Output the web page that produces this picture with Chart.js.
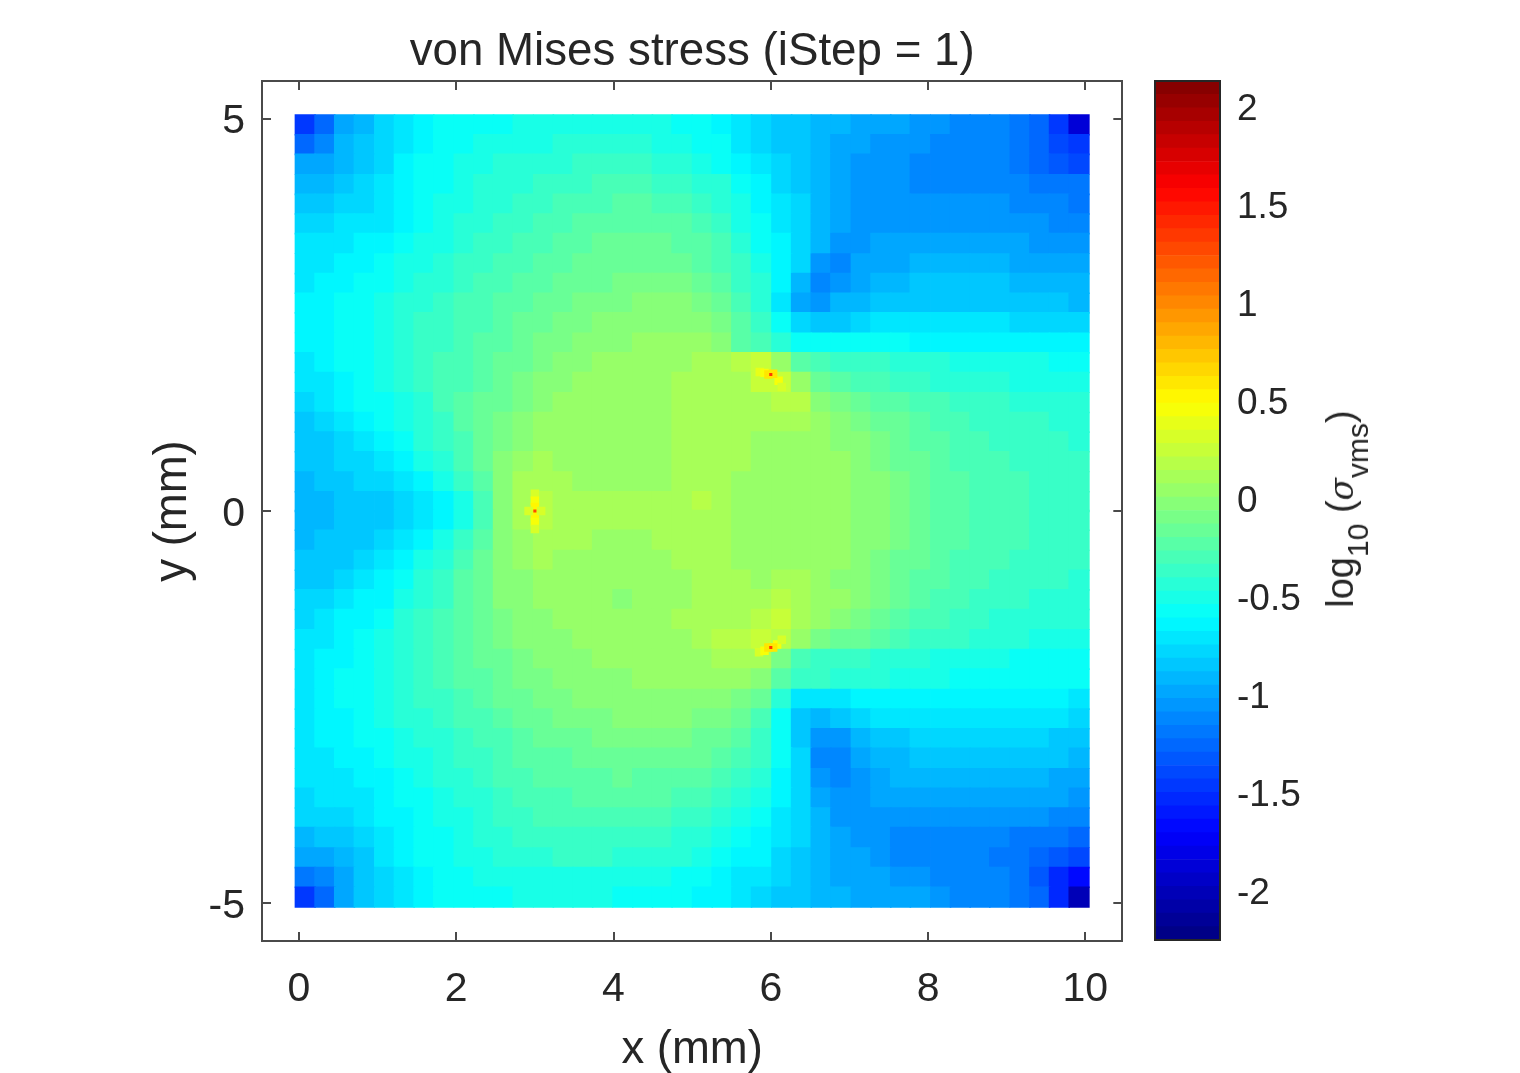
<!DOCTYPE html>
<html><head><meta charset="utf-8">
<script src="https://cdn.jsdelivr.net/npm/chart.js@4/dist/chart.umd.min.js"></script>
<style>
html,body{margin:0;padding:0;background:#fff;width:1520px;height:1073px;overflow:hidden}
canvas{position:absolute;top:0}
#cbLabel{position:absolute;left:1340px;top:509px;transform:translate(-50%,-50%) rotate(-90deg);white-space:nowrap;font:38px "Liberation Sans",Arial,sans-serif;color:#262626;line-height:1}
#cbLabel sub{font-size:30px;vertical-align:-15px;line-height:0}
#cbLabel i{font-family:"DejaVu Serif","Liberation Serif",serif;font-size:33px}
</style></head><body>
<canvas id="main" style="left:0;width:1142px;height:1073px"></canvas>
<canvas id="bar" style="left:1140px;width:380px;height:1073px"></canvas>
<div id="cbLabel">log<sub>10</sub> (<i>σ</i><sub>vms</sub>)</div>
<script>
// axis labels and ticks
const titleText="von Mises stress (iStep = 1)";
const xLabel="x (mm)", yLabel="y (mm)";
const xTicks=[0,2,4,6,8,10], yTicks=[-5,0,5], barTicks=[-2,-1.5,-1,-0.5,0,0.5,1,1.5,2];
const xRange=[-0.47,10.47], yRange=[-5.48,5.48], barRange=[-2.26,2.12];
const levelCount=64;
// cell centres in mm
const gridX=[.08,.33,.58,.83,1.09,1.34,1.59,1.84,2.10,2.35,2.60,2.85,3.11,3.36,3.61,3.86,4.12,4.37,4.62,4.87,5.13,5.38,5.63,5.88,6.14,6.39,6.64,6.89,7.15,7.40,7.65,7.90,8.16,8.41,8.66,8.91,9.17,9.42,9.67,9.92];
const gridY=[4.92,4.67,4.42,4.16,3.91,3.66,3.41,3.15,2.90,2.65,2.40,2.14,1.89,1.64,1.38,1.13,.88,.63,.37,.12,-.12,-.37,-.63,-.88,-1.13,-1.38,-1.64,-1.89,-2.14,-2.40,-2.65,-2.90,-3.15,-3.41,-3.66,-3.91,-4.16,-4.42,-4.67,-4.92];
// log10(stress) x 100, one list per row from top to bottom
const r00=[-150,-125,-100,-90,-80,-70,-63,-60,-58,-56,-55,-54,-53,-53,-52,-52,-52,-53,-54,-56,-59,-64,-72,-80,-84,-88,-92,-95,-98,-100,-101,-103,-106,-110,-112,-114,-120,-128,-145,-190];
const r01=[-125,-115,-95,-87,-78,-69,-62,-59,-56,-54,-52,-50,-49,-48,-47,-47,-47,-48,-50,-52,-55,-61,-70,-78,-83,-87,-92,-97,-101,-104,-106,-108,-110,-111,-113,-114,-118,-127,-138,-150];
const r02=[-100,-102,-93,-85,-77,-68,-60,-57,-54,-51,-48,-46,-44,-42,-40,-39,-39,-40,-42,-45,-49,-55,-64,-73,-80,-87,-93,-99,-104,-107,-108,-110,-110,-110,-111,-113,-117,-124,-132,-138];
const r03=[-92,-95,-88,-82,-75,-66,-59,-55,-51,-48,-45,-42,-39,-37,-35,-33,-32,-33,-35,-38,-42,-48,-58,-68,-77,-84,-91,-98,-104,-106,-108,-110,-110,-110,-110,-111,-113,-117,-120,-122];
const r04=[-83,-84,-81,-78,-73,-65,-58,-53,-49,-46,-42,-38,-35,-32,-30,-28,-27,-27,-29,-32,-36,-43,-54,-64,-74,-82,-90,-98,-104,-107,-108,-109,-109,-108,-108,-109,-111,-114,-115,-117];
const r05=[-77,-76,-75,-73,-69,-62,-56,-51,-47,-43,-39,-35,-32,-29,-26,-24,-22,-22,-24,-27,-31,-38,-50,-61,-72,-80,-90,-99,-105,-105,-104,-103,-103,-103,-105,-106,-108,-109,-110,-112];
const r06=[-74,-73,-71,-67,-63,-59,-53,-49,-44,-40,-36,-33,-29,-26,-23,-20,-19,-18,-20,-22,-26,-33,-46,-58,-66,-78,-92,-108,-108,-101,-100,-98,-97,-97,-98,-100,-102,-103,-105,-107];
const r07=[-73,-71,-67,-62,-58,-54,-49,-45,-41,-37,-33,-29,-26,-23,-20,-17,-16,-14,-15,-17,-21,-28,-41,-53,-62,-80,-105,-112,-102,-97,-96,-94,-93,-93,-94,-94,-96,-97,-98,-100];
const r08=[-70,-67,-63,-59,-55,-50,-46,-42,-37,-33,-29,-25,-22,-19,-16,-14,-12,-10,-10,-12,-15,-23,-36,-48,-65,-92,-110,-105,-96,-93,-91,-89,-88,-88,-88,-88,-90,-92,-94,-95];
const r09=[-68,-64,-60,-56,-53,-48,-43,-39,-34,-30,-26,-22,-18,-15,-12,-10,-8,-6,-6,-7,-10,-17,-31,-43,-70,-100,-105,-95,-90,-86,-85,-84,-84,-83,-83,-83,-85,-87,-88,-90];
const r10=[-67,-63,-59,-56,-52,-46,-41,-36,-32,-28,-24,-20,-15,-12,-9,-6,-4,-2,-1,-2,-5,-12,-26,-38,-58,-82,-85,-83,-78,-75,-74,-74,-74,-74,-75,-75,-76,-77,-78,-78];
const r11=[-68,-63,-59,-55,-51,-45,-40,-35,-30,-25,-21,-17,-12,-9,-6,-3,-1,1,2,2,0,-7,-21,-30,-45,-60,-60,-61,-60,-60,-61,-62,-63,-65,-66,-67,-67,-67,-66,-66];
const r12=[-71,-66,-60,-55,-52,-45,-39,-34,-29,-23,-19,-14,-9,-7,-3,0,2,3,4,6,7,8,16,24,6,-25,-32,-37,-39,-41,-43,-45,-47,-49,-50,-51,-52,-54,-55,-56];
const r13=[-75,-71,-63,-57,-53,-47,-40,-34,-28,-22,-17,-11,-6,-3,0,2,3,4,5,7,9,10,13,22,24,5,-18,-25,-29,-33,-36,-39,-42,-44,-45,-47,-49,-50,-51,-52];
const r14=[-80,-75,-66,-60,-56,-49,-42,-34,-27,-20,-14,-9,-3,0,2,1,1,2,4,7,10,12,11,13,20,15,-4,-10,-15,-22,-25,-29,-33,-36,-38,-41,-42,-45,-47,-48];
const r15=[-83,-79,-71,-64,-60,-53,-44,-36,-27,-18,-11,-5,0,3,3,1,0,1,3,7,10,12,10,7,11,8,1,-3,-8,-14,-19,-24,-29,-32,-35,-37,-39,-41,-42,-43];
const r16=[-87,-84,-76,-69,-65,-57,-47,-39,-29,-18,-8,-1,3,4,3,1,0,0,3,7,11,12,8,5,5,5,3,-1,-5,-11,-17,-22,-27,-31,-33,-36,-37,-40,-41,-42];
const r17=[-88,-86,-82,-76,-72,-64,-54,-44,-32,-19,-7,3,8,5,3,1,1,2,3,7,12,12,7,3,3,4,4,0,-3,-9,-14,-20,-25,-29,-31,-34,-35,-37,-39,-40];
const r18=[-90,-89,-86,-82,-78,-72,-64,-52,-38,-21,-5,7,13,8,6,4,4,5,6,9,12,11,6,1,2,4,4,1,-2,-7,-12,-18,-23,-27,-30,-32,-34,-36,-38,-39];
const r19=[-92,-91,-89,-87,-85,-81,-74,-64,-50,-28,-4,10,20,12,9,9,10,10,11,11,14,11,6,1,1,3,5,2,-1,-6,-11,-17,-22,-26,-29,-32,-33,-36,-37,-38];
const r20=[-92,-91,-89,-87,-85,-81,-74,-64,-50,-28,-4,10,20,13,10,10,10,11,11,11,13,11,6,1,1,3,5,2,-1,-6,-11,-17,-22,-26,-29,-32,-33,-36,-37,-38];
const r21=[-90,-89,-87,-83,-79,-73,-65,-53,-38,-21,-4,6,13,8,7,6,5,6,7,9,12,11,6,1,2,4,4,1,-2,-7,-12,-18,-23,-27,-29,-32,-34,-36,-37,-38];
const r22=[-87,-86,-83,-78,-73,-66,-54,-44,-32,-18,-6,3,8,5,3,2,2,3,4,7,11,11,6,3,4,5,4,0,-3,-9,-14,-20,-25,-29,-31,-34,-36,-38,-39,-40];
const r23=[-84,-83,-77,-71,-67,-58,-47,-39,-27,-16,-7,-1,3,3,2,1,0,0,2,5,10,10,7,6,7,7,3,-1,-5,-11,-17,-23,-27,-31,-33,-36,-38,-40,-41,-42];
const r24=[-81,-80,-72,-67,-62,-52,-43,-36,-25,-14,-7,-3,0,2,2,0,-1,0,2,5,10,12,10,10,14,10,4,0,-7,-13,-18,-24,-29,-33,-35,-38,-40,-42,-43,-44];
const r25=[-78,-75,-68,-62,-57,-48,-40,-34,-25,-16,-9,-4,-2,0,2,1,1,2,4,7,11,12,13,16,22,13,1,-5,-13,-18,-25,-30,-34,-37,-40,-43,-45,-47,-48,-48];
const r26=[-73,-71,-65,-59,-54,-45,-37,-31,-24,-18,-11,-7,-5,-2,0,1,2,3,4,5,8,15,18,26,20,3,-10,-16,-20,-27,-31,-35,-38,-40,-42,-44,-47,-49,-50,-52];
const r27=[-71,-68,-63,-57,-52,-44,-36,-30,-25,-19,-14,-10,-7,-4,-2,0,1,2,3,4,5,9,10,12,-8,-28,-35,-38,-41,-44,-47,-48,-50,-52,-53,-54,-55,-56,-57,-57];
const r28=[-70,-66,-61,-55,-52,-44,-36,-32,-27,-21,-16,-12,-9,-6,-4,-2,-1,1,2,2,1,4,1,-5,-22,-40,-40,-43,-45,-48,-51,-53,-54,-55,-56,-57,-58,-59,-60,-60];
const r29=[-69,-65,-61,-55,-52,-46,-40,-36,-31,-25,-20,-16,-12,-9,-7,-5,-3,-2,-1,-1,-2,-6,-10,-18,-45,-72,-75,-72,-68,-65,-66,-65,-66,-66,-66,-66,-66,-67,-68,-69];
const r30=[-69,-66,-62,-57,-54,-48,-42,-38,-34,-29,-23,-19,-15,-13,-10,-9,-7,-7,-7,-7,-8,-12,-18,-28,-55,-88,-95,-88,-80,-74,-72,-71,-71,-71,-71,-72,-73,-74,-75,-76];
const r31=[-71,-68,-64,-59,-56,-51,-46,-42,-38,-33,-28,-24,-20,-18,-15,-13,-12,-12,-13,-12,-14,-18,-26,-36,-58,-85,-108,-105,-92,-86,-84,-81,-80,-80,-80,-80,-81,-82,-83,-84];
const r32=[-73,-71,-67,-62,-59,-54,-49,-45,-41,-36,-31,-27,-23,-21,-18,-17,-16,-16,-17,-17,-19,-23,-31,-41,-60,-80,-112,-112,-100,-93,-90,-87,-86,-86,-86,-86,-87,-88,-89,-91];
const r33=[-75,-73,-71,-66,-63,-58,-52,-48,-45,-39,-34,-31,-27,-25,-22,-21,-20,-21,-22,-23,-25,-30,-37,-47,-62,-80,-105,-115,-105,-97,-95,-92,-92,-92,-92,-93,-94,-95,-97,-100];
const r34=[-78,-75,-73,-69,-66,-60,-55,-51,-47,-43,-37,-34,-30,-28,-26,-25,-25,-26,-27,-29,-31,-36,-44,-53,-65,-78,-98,-108,-106,-102,-100,-98,-97,-97,-97,-98,-99,-100,-102,-105];
const r35=[-81,-78,-76,-73,-68,-62,-57,-53,-49,-45,-40,-38,-34,-32,-31,-30,-31,-32,-34,-36,-38,-43,-50,-60,-70,-79,-94,-103,-108,-108,-108,-108,-105,-104,-103,-104,-105,-107,-110,-113];
const r36=[-92,-88,-83,-77,-70,-65,-60,-55,-51,-48,-44,-41,-38,-37,-36,-36,-37,-39,-41,-42,-44,-49,-55,-63,-72,-81,-92,-100,-104,-108,-110,-112,-112,-112,-112,-113,-117,-120,-123,-127];
const r37=[-102,-98,-90,-83,-74,-67,-61,-57,-53,-50,-47,-44,-42,-41,-41,-41,-42,-44,-46,-48,-50,-56,-62,-68,-76,-83,-92,-98,-102,-107,-110,-113,-114,-115,-115,-117,-122,-130,-135,-142];
const r38=[-118,-112,-98,-88,-79,-70,-63,-59,-56,-53,-51,-50,-50,-49,-49,-49,-50,-51,-53,-56,-59,-64,-70,-75,-81,-86,-92,-96,-98,-102,-104,-107,-112,-114,-114,-115,-120,-133,-152,-170];
const r39=[-145,-125,-100,-88,-78,-70,-64,-60,-58,-56,-55,-54,-54,-54,-54,-54,-55,-56,-57,-60,-63,-68,-74,-80,-85,-88,-91,-94,-97,-100,-100,-102,-106,-110,-111,-114,-120,-130,-155,-200];
const fieldRows=[r00,r01,r02,r03,r04,r05,r06,r07,r08,r09,r10,r11,r12,r13,r14,r15,r16,r17,r18,r19,r20,r21,r22,r23,r24,r25,r26,r27,r28,r29,r30,r31,r32,r33,r34,r35,r36,r37,r38,r39];
// stress concentrations at the three holes
const haloX=[3,3,3,3,3,3,2.92,3.08, 5.86,5.92,6.1,6.14,6.03,5.97, 5.85,5.92,6.08,6.14,5.97,6.03];
const haloY=[.22,.13,.05,-.06,-.14,-.23,0,0, 1.77,1.76,1.66,1.58,1.75,1.74, -1.8,-1.78,-1.7,-1.64,-1.74,-1.74];
const haloV=[.30,.42,.50,.50,.42,.30,.30,.30, .35,.45,.42,.33,.55,.55, .33,.45,.45,.30,.55,.55];
const coreX=[3,6,6];
const coreY=[0,1.74,-1.74];
const coreV=[1.25,1.3,1.3];

function jet(v){
  const n=levelCount, lo=barRange[0], hi=barRange[1];
  let k=Math.floor((v-lo)/(hi-lo)*n); k=Math.max(0,Math.min(n-1,k));
  const p=(k+0.5)/n;
  const c=t=>Math.round(255*Math.max(0,Math.min(1,t)));
  return `rgb(${c(Math.min(4*p-1.5,-4*p+4.5))},${c(Math.min(4*p-0.5,-4*p+3.5))},${c(Math.min(4*p+0.5,-4*p+2.5))})`;
}
const fieldPts=[];
fieldRows.forEach((row,j)=>row.forEach((v,i)=>fieldPts.push({x:gridX[i],y:gridY[j],v:v/100})));
const zip=(X,Y,V)=>X.map((x,i)=>({x,y:Y[i],v:V[i]}));
const colorOf=ctx=>ctx.raw?jet(ctx.raw.v):'#000';
const ink='#262626', frame='#4a4a4a';
const font='"Liberation Sans",Arial,sans-serif';
const keep=list=>s=>{s.ticks=list.map(value=>({value}));};
const pointSet=(data,r)=>({data,pointStyle:'rect',pointRadius:r,pointHoverRadius:r,pointBorderWidth:0,backgroundColor:colorOf,pointBackgroundColor:colorOf,showLine:false});
const axisBits={border:{display:true,color:frame,width:2},grid:{drawOnChartArea:false,drawTicks:true,tickLength:-9,color:frame,lineWidth:2}};
function size(id,w){const cv=document.getElementById(id);cv.width=w;cv.height=1073;}
size('main',1142); size('bar',380);

new Chart(document.getElementById('main'),{
  type:'scatter',
  data:{datasets:[pointSet(zip(coreX,coreY,coreV),2.2),pointSet(zip(haloX,haloY,haloV),6),pointSet(fieldPts,15)]},
  options:{responsive:false,animation:false,events:[],devicePixelRatio:1,
    layout:{autoPadding:false,padding:{left:0,right:16,top:0,bottom:0}},
    plugins:{legend:{display:false},tooltip:{enabled:false},
      title:{display:true,fullSize:false,text:titleText,color:ink,font:{family:font,size:45.7,weight:'normal',lineHeight:1.1},padding:{top:27,bottom:3.7}}},
    scales:{
      x:{type:'linear',position:'bottom',min:xRange[0],max:xRange[1],afterBuildTicks:keep(xTicks),afterFit:s=>{s.height=132;},...axisBits,
        ticks:{color:ink,font:{family:font,size:41},padding:33,autoSkip:false,maxRotation:0,callback:v=>String(v)},
        title:{display:true,text:xLabel,color:ink,font:{family:font,size:45.5,lineHeight:1},padding:{top:0,bottom:0}}},
      y:{type:'linear',position:'left',min:yRange[0],max:yRange[1],afterBuildTicks:keep(yTicks),afterFit:s=>{s.width=262;},...axisBits,
        ticks:{color:ink,font:{family:font,size:41},padding:26,labelOffset:3.5,autoSkip:false,callback:v=>String(v)},
        title:{display:true,text:yLabel,color:ink,font:{family:font,size:45.5,lineHeight:1.2},padding:{top:146,bottom:0}}},
      xTop:{type:'linear',position:'top',min:xRange[0],max:xRange[1],afterBuildTicks:keep(xTicks),afterFit:s=>{s.height=0;},...axisBits,ticks:{display:false}},
      yRight:{type:'linear',position:'right',min:yRange[0],max:yRange[1],afterBuildTicks:keep(yTicks),afterFit:s=>{s.width=0;},...axisBits,ticks:{display:false}}
    }}
});

const levelSets=[];
for(let k=0;k<levelCount;k++){
  const lo=barRange[0]+(barRange[1]-barRange[0])*k/levelCount, hi=barRange[0]+(barRange[1]-barRange[0])*(k+1)/levelCount;
  levelSets.push({data:[[lo,hi]],backgroundColor:jet((lo+hi)/2),borderWidth:0,barPercentage:1,categoryPercentage:1,grouped:false});
}
new Chart(document.getElementById('bar'),{
  type:'bar',
  data:{labels:['levels'],datasets:levelSets},
  options:{responsive:false,animation:false,events:[],devicePixelRatio:1,
    layout:{autoPadding:false,padding:{left:15,top:81,bottom:133,right:0}},
    plugins:{legend:{display:false},tooltip:{enabled:false},title:{display:false}},
    scales:{
      x:{display:false,stacked:false},
      y:{type:'linear',position:'right',min:barRange[0],max:barRange[1],afterBuildTicks:keep(barTicks),afterFit:s=>{s.width=300;},
        border:{display:true,color:ink,width:2},
        grid:{drawOnChartArea:false,drawTicks:true,tickLength:-9,color:ink,lineWidth:2},
        ticks:{color:ink,font:{family:font,size:37},padding:26,labelOffset:5,autoSkip:false,callback:v=>String(v)}}
    }},
  plugins:[{id:'frame',afterDraw(c){const a=c.chartArea,g=c.ctx;g.save();g.strokeStyle=ink;g.lineWidth=2;g.strokeRect(a.left,a.top,a.right-a.left,a.bottom-a.top);g.restore();}}]
});
</script>
</body></html>
